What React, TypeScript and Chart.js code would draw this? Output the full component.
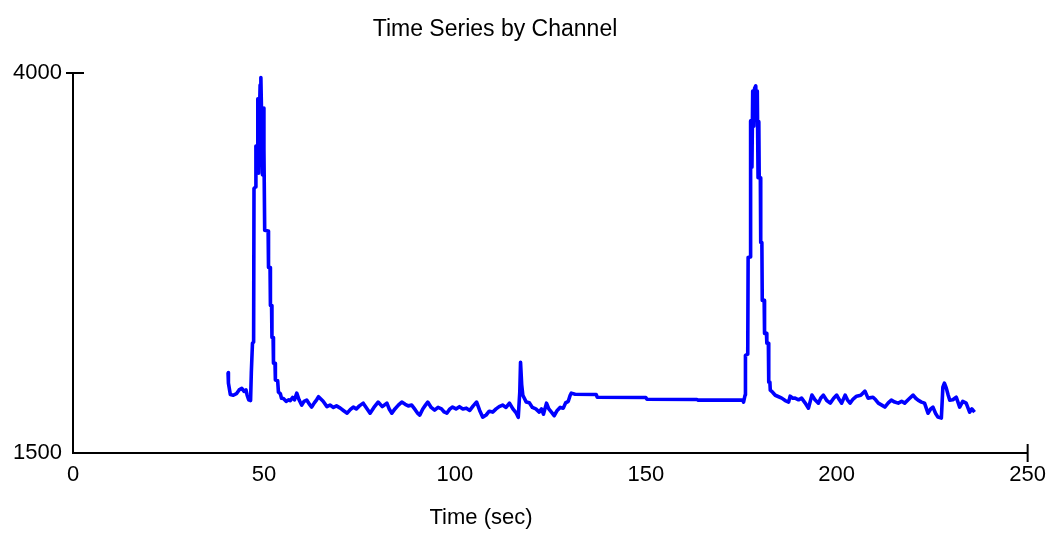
import React, { useEffect, useRef } from "react";
import { Chart, registerables } from "chart.js";

Chart.register(...registerables);

const chartTitle = "Time Series by Channel";
const xAxisTitle = "Time (sec)";
const xTickValues = [0, 50, 100, 150, 200, 250];
const yTickValues = [1500, 4000];

const timeSec = [
  40.6, 40.7, 41.2, 42.0, 42.8, 43.5, 44.2, 44.8, 45.3, 45.6, 46.0, 46.3, 46.5,
  46.7, 47.0, 47.3, 47.4, 47.8, 47.9, 48.2, 48.4, 48.6, 48.8, 49.0, 49.2, 49.4, 49.6, 49.8, 50.0, 50.2,
  51.1, 51.2, 51.6, 51.7, 52.0, 52.1, 52.4, 52.5, 52.9, 53.0, 53.6, 53.8, 54.3, 54.6,
  55.1, 55.8, 56.5, 56.9, 57.5, 58.0, 58.6, 59.2, 59.9, 60.5, 61.2, 61.8, 62.5, 63.2, 63.8, 64.3, 64.7,
  65.5, 66.5, 67.3, 68.2, 69.0, 70.0, 70.8, 71.8, 72.6, 73.4, 74.2, 75.0, 76.0, 76.9, 77.8, 78.8, 79.9,
  81.0, 82.2, 82.8, 83.5, 84.3, 85.2, 86.1, 87.0, 87.8, 88.7, 89.6, 90.3, 90.8, 91.6, 92.3, 92.9, 93.8,
  94.7, 95.6, 96.5, 97.2, 97.9, 98.7, 99.4, 100.3, 101.2, 102.1, 103.0, 103.9, 104.8, 105.7, 106.5,
  107.3, 108.2, 109.0, 109.9, 110.8, 111.6, 112.5, 113.4, 114.3, 115.2, 116.1, 116.6, 117.0, 117.2,
  117.5, 117.8, 118.7, 119.5, 120.3, 121.2, 122.1, 122.7, 123.2, 124.0, 124.6, 125.5, 126.0, 126.8,
  127.6, 128.4, 129.0, 129.7, 130.2, 130.5,
  131.5, 137.0, 137.3, 150.0, 150.3, 163.4, 163.7, 175.4, 175.6, 176.0,
  176.1, 176.7, 176.8, 177.3, 177.4, 177.5, 177.8, 178.0, 178.3, 178.5, 178.8, 179.0, 179.2, 179.4,
  179.6, 179.7, 180.0, 180.1, 180.4, 180.5, 181.0, 181.1, 181.6, 181.7, 182.1, 182.2, 182.5, 182.6,
  183.2, 183.9, 184.8, 185.6,
  186.5, 187.4, 187.8, 188.5, 189.1, 190.0, 190.8, 191.7, 192.6, 193.5, 194.3, 195.2, 195.8, 196.5,
  197.4, 198.3, 199.2, 200.0, 200.7, 201.3, 202.2, 202.8, 203.5, 204.3, 205.2, 206.3, 207.4, 208.2,
  209.5, 210.2, 210.9, 211.8, 212.6, 213.5, 214.3, 215.2, 216.1, 217.0, 217.8, 218.9, 220.0, 220.7,
  221.3, 222.2, 223.0, 223.9, 224.6, 225.2, 225.9, 226.5, 227.4, 227.8, 228.2, 228.7, 229.2, 229.6,
  230.4, 231.3, 232.2, 233.0, 233.9, 234.8, 235.4, 236.1,
];

const channelValues = [
  2030, 1960, 1885, 1880, 1890, 1915, 1925, 1905, 1915, 1880, 1850, 1870, 1845,
  2030, 2222, 2230, 3240, 3250, 3520, 3450, 3830, 3340, 3700, 3920, 3970, 3700, 3330, 3770, 3500, 2965,
  2960, 2720, 2720, 2470, 2470, 2260, 2260, 2090, 2090, 1980, 1975, 1900, 1890, 1860,
  1858, 1840, 1850, 1845, 1865, 1850, 1894, 1850, 1815, 1840, 1848, 1825, 1802, 1830, 1850, 1870, 1860,
  1840, 1805, 1815, 1800, 1810, 1795, 1780, 1762, 1785, 1802, 1790, 1810, 1828, 1795, 1762, 1800, 1835,
  1805, 1828, 1790, 1762, 1790, 1815, 1835, 1820, 1810, 1815, 1785, 1760, 1749, 1790, 1815, 1835, 1800,
  1782, 1800, 1790, 1770, 1762, 1790, 1802, 1790, 1805, 1790, 1795, 1780, 1810, 1835, 1780,
  1736, 1750, 1775, 1769, 1790, 1805, 1815, 1800, 1828, 1790, 1762, 1735, 1900, 2097,
  1950, 1880, 1835, 1830, 1800, 1790, 1769, 1790, 1755, 1828, 1790, 1762, 1745, 1780,
  1800, 1795, 1830, 1840, 1880, 1894,
  1887, 1885, 1867, 1865, 1854, 1852, 1848, 1848, 1835, 1881,
  2143, 2150, 2786, 2790, 3377, 3685, 3380, 3882, 3650, 3900, 3915, 3700, 3882, 3311,
  3680, 3320, 3311, 2885, 2885, 2504, 2504, 2287, 2287, 2222, 2222, 1966, 1966, 1913,
  1900, 1880, 1870, 1861,
  1845, 1835, 1874, 1860, 1861, 1850, 1861, 1830, 1795, 1881, 1850, 1828, 1860, 1881,
  1845, 1828, 1860, 1881, 1850, 1828, 1881, 1850, 1828, 1855, 1874, 1880, 1907, 1861,
  1867, 1850, 1828, 1815, 1802, 1830, 1848, 1835, 1828, 1840, 1828, 1855, 1881, 1860,
  1848, 1835, 1828, 1762, 1790, 1802, 1760, 1736, 1730, 1933, 1960, 1927, 1880, 1848,
  1850, 1867, 1802, 1840, 1828, 1769, 1790, 1769,
];

const FONT = '"Liberation Sans", Arial, sans-serif';

const textAndCapsPlugin = {
  id: "textAndCaps",
  afterDraw(chart: any) {
    const { ctx, scales } = chart;
    const x = scales.x;
    const y = scales.y;
    ctx.save();
    ctx.strokeStyle = "#000";
    ctx.lineWidth = 2;
    const yTop = y.getPixelForValue(yTickValues[1]);
    const xLeft = x.getPixelForValue(xTickValues[0]);
    ctx.beginPath();
    ctx.moveTo(xLeft - 7, yTop);
    ctx.lineTo(xLeft + 11, yTop);
    ctx.stroke();
    const xRight = x.getPixelForValue(xTickValues[xTickValues.length - 1]);
    const yBottom = y.getPixelForValue(yTickValues[0]);
    ctx.beginPath();
    ctx.moveTo(xRight, yBottom - 9);
    ctx.lineTo(xRight, yBottom + 9);
    ctx.stroke();
    ctx.fillStyle = "#000";
    ctx.textAlign = "center";
    ctx.textBaseline = "alphabetic";
    ctx.font = `23px ${FONT}`;
    ctx.fillText(chartTitle, 495, 36);
    ctx.font = `22px ${FONT}`;
    ctx.fillText(xAxisTitle, 481, 524);
    ctx.restore();
  },
};

export default function App() {
  const canvasRef = useRef<HTMLCanvasElement | null>(null);

  useEffect(() => {
    if (!canvasRef.current) return;
    const points = timeSec.map((t, i) => ({ x: t, y: channelValues[i] }));
    const chart = new Chart(canvasRef.current, {
      type: "line",
      data: {
        datasets: [
          {
            label: "Channel",
            data: points,
            borderColor: "#0000FF",
            backgroundColor: "#0000FF",
            borderWidth: 3.6,
            borderJoinStyle: "round",
            pointRadius: 0,
            tension: 0,
            fill: false,
          },
        ],
      },
      options: {
        responsive: false,
        animation: false,
        layout: { padding: { top: 73, left: 0, right: 27, bottom: 41 } },
        plugins: {
          legend: { display: false },
          title: { display: false },
          tooltip: { enabled: false },
        },
        scales: {
          x: {
            type: "linear",
            min: 0,
            max: 250,
            grid: { display: false, drawTicks: false },
            border: { display: true, color: "#000", width: 2 },
            ticks: {
              stepSize: 50,
              padding: 9,
              color: "#000",
              font: { family: FONT, size: 22 },
            },
            afterBuildTicks: (scale: any) => {
              scale.ticks = xTickValues.map((v) => ({ value: v }));
            },
            afterFit: (scale: any) => {
              scale.height = 40;
            },
          },
          y: {
            type: "linear",
            min: 1500,
            max: 4000,
            grid: { display: false, drawTicks: false },
            border: { display: true, color: "#000", width: 2 },
            ticks: {
              padding: 11,
              color: "#000",
              font: { family: FONT, size: 22 },
              callback: (v: any) => String(v),
            },
            afterBuildTicks: (scale: any) => {
              scale.ticks = yTickValues.map((v) => ({ value: v }));
            },
            afterFit: (scale: any) => {
              scale.width = 73;
            },
          },
        },
      },
      plugins: [textAndCapsPlugin],
    });
    return () => chart.destroy();
  }, []);

  return (
    <div style={{ position: "fixed", left: 0, top: 0, width: 1055, height: 534, background: "#fff" }}>
      <canvas ref={canvasRef} width={1055} height={534} style={{ display: "block" }} />
    </div>
  );
}
